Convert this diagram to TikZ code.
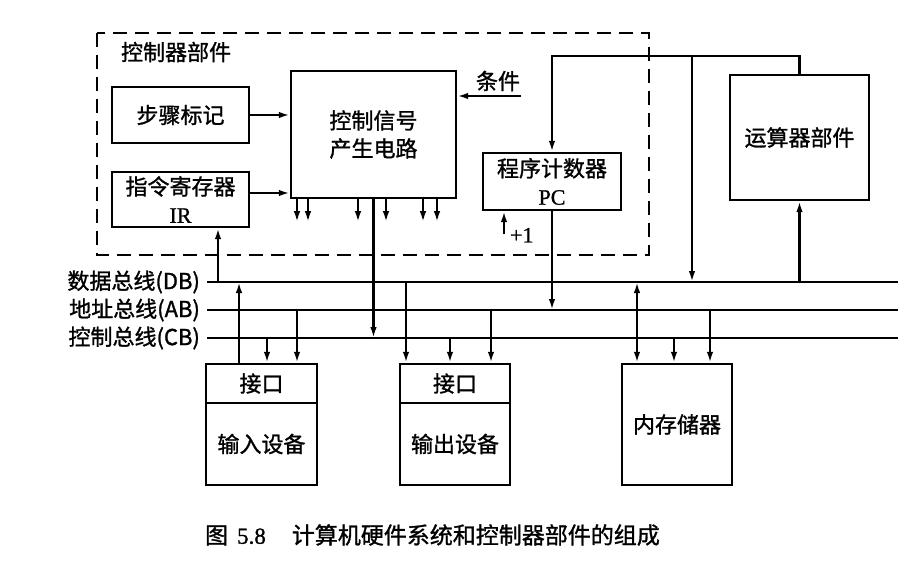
\documentclass[tikz,border=0pt]{standalone}
\usepackage{fontspec}
\setmainfont{Liberation Serif}
\newfontfamily\cjk[FakeBold=1.2]{Noto Sans CJK SC}
\newfontfamily\lat[FakeBold=1]{Liberation Serif}
\usetikzlibrary{arrows.meta}
\begin{document}
\begin{tikzpicture}[x=1pt,y=-1pt,line width=2.2pt,
  box/.style={draw,line width=2.4pt,inner sep=0pt,align=center,font=\cjk\fontsize{22}{28}\selectfont},
  lbl/.style={inner sep=0pt,font=\cjk\fontsize{22}{28}\selectfont},
  arr/.style={-{Latex[length=11pt,width=6.5pt]}},
  darr/.style={{Latex[length=11pt,width=6.5pt]}-{Latex[length=11pt,width=6.5pt]}},
  unit/.style={draw,line width=2.2pt,dash pattern=on 14pt off 8pt}]
\useasboundingbox (0,0) rectangle (918,564);

% control unit frame
\draw[unit] (97,33) rectangle (649,255);
\node[lbl,anchor=west] (cu) at (120,52) {控制器部件};

% boxes
\node[box,minimum width=137pt,minimum height=56pt] (step) at (180.5,115) {步骤标记};
\node[box,minimum width=137pt,minimum height=55pt] (ir) at (180.5,199.5) {指令寄存器\\{\lat IR}};
\node[box,minimum width=165pt,minimum height=127pt] (ctrl) at (373.5,134.5) {控制信号\\产生电路};
\node[box,minimum width=138pt,minimum height=57pt] (pc) at (552,181.5) {程序计数器\\{\lat PC}};
\node[box,minimum width=139pt,minimum height=125pt] (alu) at (799.5,137.5) {运算器部件};

\node[box,minimum width=111pt,minimum height=39pt] (inTop) at (261.5,383.5) {接口};
\node[box,minimum width=111pt,minimum height=82pt] (inDev) at (261.5,444) {输入设备};
\node[box,minimum width=110pt,minimum height=39pt] (outTop) at (455,383.5) {接口};
\node[box,minimum width=110pt,minimum height=82pt] (outDev) at (455,444) {输出设备};
\node[box,minimum width=110pt,minimum height=121pt] (mem) at (677,424.5) {内存储器};

% buses
\coordinate (dbL) at (207,282); \coordinate (dbR) at (898,282);
\coordinate (abL) at (207,310); \coordinate (abR) at (898,310);
\coordinate (cbL) at (207,338); \coordinate (cbR) at (898,338);
\draw (dbL) -- (dbR);
\draw (abL) -- (abR);
\draw (cbL) -- (cbR);
\node[lbl,anchor=east] (dbT) at (201,282) {数据总线(DB)};
\node[lbl,anchor=east] (abT) at (201,310) {地址总线(AB)};
\node[lbl,anchor=east] (cbT) at (201,338) {控制总线(CB)};

% inside control unit
\draw[arr] (step.east) -- (step.east -| ctrl.west);
\coordinate (irOut) at ([yshift=6.5pt]ir.east);
\draw[arr] (irOut) -- (irOut -| ctrl.west);
\coordinate (c1) at (521,96);
\draw[arr] (c1) -- (c1 -| ctrl.east);
\node[lbl] (cond) at (498,81) {条件};
\foreach \dx in {-76.5,-65.5,-15.5,12.5,49.5,63.5}{
  \draw[arr] ([xshift=\dx pt]ctrl.south) -- ([xshift=\dx pt,yshift=-23pt]ctrl.south);
}
\draw[arr] (ctrl.south) -- (ctrl.south |- cbL);
\draw[arr] (pc.south) -- (pc.south |- abL);
\coordinate (p1) at ([xshift=-48pt,yshift=-23pt]pc.south);
\draw[arr] (p1) -- (p1 |- pc.south);
\node[inner sep=0pt,anchor=west,font=\lat\fontsize{22}{26}\selectfont] (plus) at ([xshift=5pt,yshift=-1pt]p1) {+1};
\coordinate (irIn) at ([xshift=37.5pt]ir.south);
\draw[arr] (irIn |- dbL) -- (irIn);

% ALU loop
\coordinate (loop) at ([yshift=18pt]alu.north);
\draw[arr] (alu.north) -- (loop) -| (pc.north);
\coordinate (brx) at (692,282);
\draw[arr] (loop -| brx) -- (brx);
\draw[arr] (alu.south |- dbL) -- (alu.south);

% input device
\coordinate (i1) at ([xshift=-22.5pt]inTop.north);
\coordinate (i2) at ([xshift=5.5pt]inTop.north);
\coordinate (i3) at ([xshift=35.5pt]inTop.north);
\draw[arr] (i1) -- (i1 |- dbL);
\draw[arr] (i2 |- cbL) -- (i2);
\draw[arr] (i3 |- abL) -- (i3);

% output device
\coordinate (o1) at ([xshift=-49pt]outTop.north);
\coordinate (o2) at ([xshift=-5pt]outTop.north);
\coordinate (o3) at ([xshift=36pt]outTop.north);
\draw[arr] (o1 |- dbL) -- (o1);
\draw[arr] (o2 |- cbL) -- (o2);
\draw[arr] (o3 |- abL) -- (o3);

% memory
\coordinate (m1) at ([xshift=-40pt]mem.north);
\coordinate (m2) at ([xshift=-3pt]mem.north);
\coordinate (m3) at ([xshift=33pt]mem.north);
\draw[darr] (m1 |- dbL) -- (m1);
\draw[arr] (m2 |- cbL) -- (m2);
\draw[arr] (m3 |- abL) -- (m3);

% caption
\node[inner sep=0pt,anchor=west,font=\lat\fontsize{23}{28}\selectfont] (cap) at (204,535)
  {{\cjk 图}\hspace{9pt}5.8\hspace{26pt}{\cjk 计算机硬件系统和控制器部件的组成}};
\end{tikzpicture}
\end{document}
